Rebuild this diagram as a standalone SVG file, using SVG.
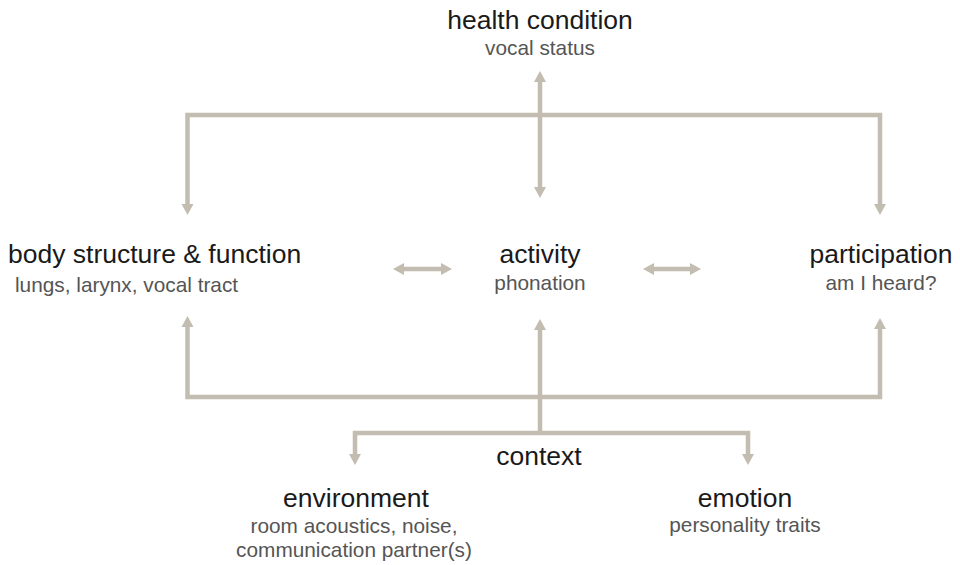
<svg xmlns="http://www.w3.org/2000/svg" width="960" height="565" viewBox="0 0 960 565">
<style>
.t{font-family:"Liberation Sans",Arial,sans-serif;font-size:26.5px;fill:#1a1a1a}
.s{font-family:"Liberation Sans",Arial,sans-serif;font-size:20.8px;fill:#555555}
.c{text-anchor:middle}
.ln{fill:none;stroke:#c3bcb1;stroke-width:4.5;stroke-linejoin:miter}
</style>
<defs>
<marker id="ah" viewBox="0 -7 12 14" refX="1" refY="0" markerWidth="12" markerHeight="14" markerUnits="userSpaceOnUse" orient="auto-start-reverse">
<path d="M0,-6 L11,0 L0,6 z" fill="#c3bcb1"/>
</marker>
</defs>
<rect width="960" height="565" fill="#ffffff"/>
<g id="connectors">
<path class="ln" d="M540,81 V188" marker-start="url(#ah)" marker-end="url(#ah)"/>
<path class="ln" d="M187.5,205 V115 H880 V205" marker-start="url(#ah)" marker-end="url(#ah)"/>
<path class="ln" d="M187.5,326 V397 H880 V328" marker-start="url(#ah)" marker-end="url(#ah)"/>
<path class="ln" d="M540,433 V329" marker-end="url(#ah)"/>
<path class="ln" d="M355,455 V433 H748 V455" marker-start="url(#ah)" marker-end="url(#ah)"/>
<path class="ln" d="M403,269 H442" marker-start="url(#ah)" marker-end="url(#ah)"/>
<path class="ln" d="M653,269 H691" marker-start="url(#ah)" marker-end="url(#ah)"/>
</g>
<g id="health">
<text class="t c" x="540" y="29">health condition</text>
<text class="s c" x="540" y="55">vocal status</text>
</g>
<g id="body">
<text class="t" x="8" y="263">body structure &amp; function</text>
<text class="s" x="15" y="292">lungs, larynx, vocal tract</text>
</g>
<g id="activity">
<text class="t c" x="540" y="263">activity</text>
<text class="s c" x="540" y="290">phonation</text>
</g>
<g id="participation">
<text class="t c" x="881" y="263">participation</text>
<text class="s c" x="881" y="290">am I heard?</text>
</g>
<g id="context">
<text class="t c" x="539" y="465">context</text>
</g>
<g id="environment">
<text class="t c" x="356" y="507">environment</text>
<text class="s c" x="354" y="533">room acoustics, noise,</text>
<text class="s c" x="354" y="557">communication partner(s)</text>
</g>
<g id="emotion">
<text class="t c" x="745" y="507">emotion</text>
<text class="s c" x="745" y="532">personality traits</text>
</g>
</svg>
